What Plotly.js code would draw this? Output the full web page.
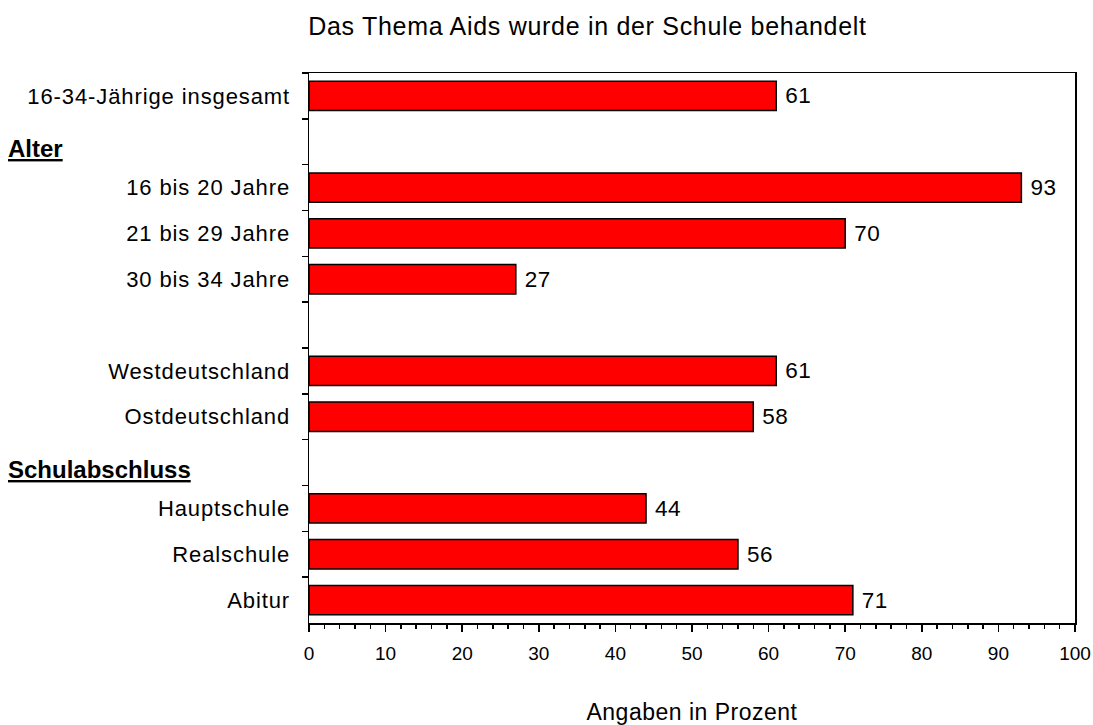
<!DOCTYPE html>
<html>
<head>
<meta charset="utf-8">
<script src="https://cdn.plot.ly/plotly-3.0.1.min.js"></script>
<style>
html,body{margin:0;padding:0;background:#fff;}
#chart{width:1093px;height:725px;}
#chart .ytick text{letter-spacing:0.9px;}
#chart .gtitle{letter-spacing:0.7px;}
#chart .xtitle{letter-spacing:0.5px;}
#chart .bartext{letter-spacing:0.5px;}
</style>
</head>
<body>
<div id="chart"></div>
<script>
// Categories top to bottom (blank rows are spacer rows)
const categories = [
  "16-34-Jährige insgesamt",
  " ",
  "16 bis 20 Jahre",
  "21 bis 29 Jahre",
  "30 bis 34 Jahre",
  "  ",
  "Westdeutschland",
  "Ostdeutschland",
  "   ",
  "Hauptschule",
  "Realschule",
  "Abitur"
];
const values = [61, null, 93, 70, 27, null, 61, 58, null, 44, 56, 71];
const groupHeaders = ["Alter", "Schulabschluss"];
const groupHeaderRows = [" ", "   "];
const xTickValues = [0, 10, 20, 30, 40, 50, 60, 70, 80, 90, 100];
const chartTitle = "Das Thema Aids wurde in der Schule behandelt";
const xTitle = "Angaben in Prozent";

const FONT = "Arial, 'Liberation Sans', sans-serif";

const trace = {
  type: "bar",
  orientation: "h",
  y: categories,
  x: values,
  width: 0.64,
  marker: { color: "#FF0000", line: { color: "#000000", width: 1.5 } },
  texttemplate: "\u00A0%{x}",
  textposition: "outside",
  textfont: { family: FONT, size: 22.5, color: "#000" },
  cliponaxis: false,
  hoverinfo: "none"
};

const annotations = groupHeaders.map((h, i) => ({
  text: "<b><u>" + h + "</u></b>",
  xref: "paper", x: -0.396, xanchor: "left",
  yref: "y", y: groupHeaderRows[i], yanchor: "middle", yshift: -7,
  showarrow: false,
  font: { family: FONT, size: 24, color: "#000" }
}));

const layout = {
  width: 1093, height: 725,
  margin: { l: 309, r: 18, t: 73, b: 102 },
  paper_bgcolor: "#fff", plot_bgcolor: "#fff",
  showlegend: false,
  font: { family: FONT, color: "#000" },
  title: {
    text: chartTitle,
    font: { family: FONT, size: 25, color: "#000" },
    x: 0.5375, xanchor: "center", xref: "container",
    y: 0.964, yanchor: "middle", yref: "container"
  },
  xaxis: {
    range: [0, 100],
    tickmode: "array", tickvals: xTickValues,
    ticks: "outside", ticklen: 7, tickwidth: 1.5, tickcolor: "#000",
    minor: { dtick: 2, ticks: "outside", ticklen: 4, tickwidth: 1.5, tickcolor: "#000", showgrid: false },
    showline: true, linecolor: "#000", linewidth: 1.5, mirror: true,
    showgrid: false, zeroline: false,
    tickfont: { family: FONT, size: 19, color: "#000" },
    ticklabelstandoff: 6,
    title: { text: xTitle, font: { family: FONT, size: 23, color: "#000" }, standoff: 42 },
    fixedrange: true
  },
  yaxis: {
    type: "category",
    categoryorder: "array", categoryarray: categories,
    autorange: "reversed",
    tickson: "boundaries",
    ticks: "outside", ticklen: 6, tickwidth: 1.5, tickcolor: "#000",
    showline: true, linecolor: "#000", linewidth: 1.5, mirror: true,
    showgrid: false, zeroline: false,
    tickfont: { family: FONT, size: 22, color: "#000" },
    ticklabelstandoff: 13,
    fixedrange: true
  },
  bargap: 0.36,
  annotations: annotations
};

Plotly.newPlot("chart", [trace], layout, { displayModeBar: false, staticPlot: true });
</script>
</body>
</html>
